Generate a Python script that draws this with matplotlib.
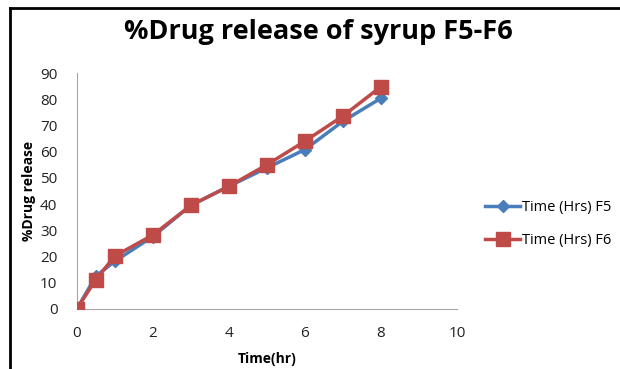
import matplotlib.pyplot as plt
from matplotlib.lines import Line2D

plt.rcParams['font.family'] = ['Open Sans', 'DejaVu Sans']

time_hr = [0, 0.5, 1, 2, 3, 4, 5, 6, 7, 8]
release_f5 = [0, 12.5, 18.2, 27.6, 39.5, 46.8, 53.8, 60.8, 71.6, 80.4]
release_f6 = [0, 11.2, 20.2, 28.2, 39.5, 46.8, 55.0, 64.0, 73.6, 84.8]
series_labels = ['Time (Hrs) F5', 'Time (Hrs) F6']

fig = plt.figure(figsize=(6.2, 3.69), dpi=100)
ax = fig.add_axes([0.124, 0.163, 0.613, 0.639])

ax.plot(time_hr, release_f5, color='#4a7ebb', lw=2.5, marker='D', ms=6,
        label=series_labels[0], zorder=2)
ax.plot(time_hr, release_f6, color='#be4b48', lw=2.5, marker='s', ms=10,
        label=series_labels[1], zorder=3)

ax.set_xlim(0, 10)
ax.set_ylim(0, 90)
ax.set_xticks(range(0, 11, 2))
ax.set_yticks(range(0, 91, 10))
for side in ['top', 'right']:
    ax.spines[side].set_visible(False)
for side in ['left', 'bottom']:
    ax.spines[side].set_color('#a6a6a6')
ax.tick_params(axis='x', length=0, labelsize=11, pad=12)
ax.tick_params(axis='y', length=0, labelsize=11, pad=14)
for lbl in ax.get_xticklabels() + ax.get_yticklabels():
    lbl.set_color('#222222')

ax.set_xlabel('Time(hr)', fontsize=10, fontweight='bold', labelpad=8)
ax.set_ylabel('%Drug release', fontsize=10, fontweight='bold', labelpad=3)
fig.text(0.513, 0.912, '%Drug release of syrup F5-F6', ha='center', va='center',
         fontsize=19.5, fontweight='bold')

ax.legend(loc='center left', bbox_to_anchor=(1.04, 0.36), frameon=False,
          fontsize=10.5, handlelength=2.4, labelspacing=1.25, handletextpad=0.1)

# chart frame (left and top edges visible)
fig.add_artist(Line2D([0.016, 0.016], [0, 0.978], color='black', lw=2))
fig.add_artist(Line2D([0.016, 1.0], [0.978, 0.978], color='black', lw=2))

fig.savefig('out.png', dpi=100)
